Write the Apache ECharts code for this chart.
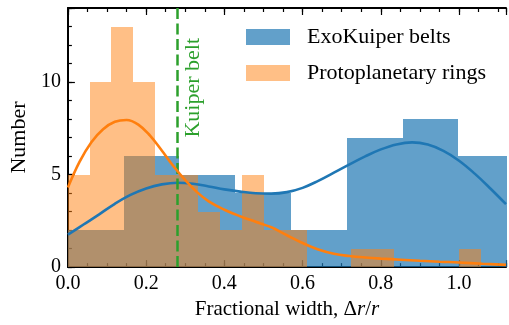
<!DOCTYPE html>
<html>
<head>
<meta charset="utf-8">
<script src="https://cdn.jsdelivr.net/npm/echarts@6/dist/echarts.min.js"></script>
<style>
  html, body { margin: 0; padding: 0; background: #fff; }
  #chart { width: 509px; height: 325px; }
</style>
</head>
<body>
<div id="chart"></div>
<script>
// histogram counts
const blueBinWidth = 0.0713;
const blueCounts = [2, 2, 6, 6, 5, 5, 4, 4, 2, 2, 7, 7, 8, 8, 6, 6];
const orangeBinWidth = 0.0556;
const orangeCounts = [5, 10, 13, 10, 5, 5, 3, 2, 5, 2, 2, 0, 0, 1, 1, 0, 0, 0, 1, 0];

// smoothed curves (x, number)
const blueKde = [
  [0, 1.75], [0.04, 2.3], [0.08, 2.85], [0.12, 3.42], [0.16, 3.9], [0.2, 4.25],
  [0.24, 4.47], [0.28, 4.56], [0.32, 4.5], [0.36, 4.36], [0.4, 4.2], [0.44, 4.08],
  [0.48, 3.99], [0.52, 3.97], [0.56, 4.05], [0.6, 4.28], [0.64, 4.66], [0.68, 5.1],
  [0.72, 5.55], [0.76, 5.98], [0.8, 6.36], [0.84, 6.63], [0.88, 6.74], [0.92, 6.62],
  [0.96, 6.28], [1.0, 5.75], [1.04, 5.05], [1.08, 4.25], [1.12, 3.4]
];
const orangeKde = [
  [0, 4.3], [0.03, 5.7], [0.06, 6.75], [0.09, 7.45], [0.12, 7.85], [0.15, 7.95],
  [0.18, 7.7], [0.21, 7.1], [0.24, 6.3], [0.27, 5.45], [0.3, 4.7], [0.33, 4.05],
  [0.36, 3.55], [0.4, 3.1], [0.44, 2.75], [0.48, 2.45], [0.52, 2.15], [0.56, 1.72],
  [0.6, 1.3], [0.64, 0.95], [0.68, 0.72], [0.72, 0.6], [0.76, 0.52], [0.8, 0.46],
  [0.85, 0.4], [0.9, 0.34], [0.95, 0.29], [1.0, 0.25], [1.06, 0.18], [1.12, 0.12]
];

const kuiperBeltWidth = 0.278;
const seriesNames = ['ExoKuiper belts', 'Protoplanetary rings'];
const xMax = 1.12;
const yMax = 14;

const FONT = 'Liberation Serif';
const blueFill = 'rgba(31,119,180,0.7)';
const orangeFill = 'rgba(255,127,14,0.5)';

function toBins(counts, width) {
  return counts.map((c, i) => [i * width, (i + 1) * width, c]);
}

function rectItem(fill) {
  return function (params, api) {
    const p0 = api.coord([api.value(0), 0]);
    const p1 = api.coord([api.value(1), api.value(2)]);
    const x0 = Math.round(p0[0]);
    const x1 = Math.round(p1[0]);
    const yTop = Math.round(p1[1]);
    return {
      type: 'rect',
      shape: { x: x0, y: yTop, width: x1 - x0, height: p0[1] - yTop },
      style: { fill: fill }
    };
  };
}

const chart = echarts.init(document.getElementById('chart'));

function xAxisDef(pos, interval, len, main) {
  return {
    type: 'value', position: pos, min: 0, max: xMax, interval: interval,
    axisLine: { show: main, onZero: false, lineStyle: { color: '#000', width: 2 } },
    axisTick: { show: true, inside: true, length: len, lineStyle: { color: '#000', width: 1.2 } },
    axisLabel: {
      show: main && pos === 'bottom', margin: 7, color: '#000',
      fontFamily: FONT, fontSize: 20,
      formatter: v => Math.abs(v * 5 - Math.round(v * 5)) < 1e-6 ? v.toFixed(1) : ''
    },
    splitLine: { show: false }
  };
}

function yAxisDef(interval, len, main) {
  return {
    type: 'value', position: 'left', min: 0, max: yMax, interval: interval,
    axisLine: { show: main, onZero: false, lineStyle: { color: '#000', width: 2 } },
    axisTick: { show: true, inside: true, length: len, lineStyle: { color: '#000', width: 1.2 } },
    axisLabel: {
      show: main, margin: 7, color: '#000', fontFamily: FONT, fontSize: 20,
      formatter: v => v % 5 === 0 ? String(v) : ''
    },
    splitLine: { show: false }
  };
}

const xMain = xAxisDef('bottom', 0.2, 7, true);
xMain.name = '{a|Fractional width, Δ}{i|r}{a|/}{i|r}';
xMain.nameLocation = 'middle';
xMain.nameGap = 31;
xMain.nameTextStyle = {
  rich: {
    a: { fontFamily: FONT, fontSize: 21, color: '#000' },
    i: { fontFamily: FONT, fontSize: 21, fontStyle: 'italic', color: '#000' }
  }
};

const yMain = yAxisDef(5, 7, true);
yMain.name = 'Number';
yMain.nameLocation = 'middle';
yMain.nameGap = 33;
yMain.nameTextStyle = { fontFamily: FONT, fontSize: 22, color: '#000' };

const option = {
  animation: false,
  backgroundColor: '#fff',
  grid: { left: 66, top: 8, width: 443.2, height: 261 },
  legend: {
    data: seriesNames,
    orient: 'vertical',
    left: 246, top: 26,
    padding: 0,
    icon: 'rect',
    itemWidth: 44, itemHeight: 16, itemGap: 14,
    textStyle: { fontFamily: FONT, fontSize: 22, color: '#000', padding: [0, 0, 0, 12] }
  },
  xAxis: [
    xMain,
    xAxisDef('bottom', 0.05, 4, false),
    xAxisDef('top', 0.2, 7, true),
    xAxisDef('top', 0.05, 4, false)
  ],
  yAxis: [
    yMain,
    yAxisDef(1, 4, false)
  ],
  series: [
    {
      name: seriesNames[0], type: 'custom', clip: true,
      itemStyle: { color: blueFill },
      encode: { x: [0, 1], y: 2 },
      renderItem: rectItem(blueFill),
      data: toBins(blueCounts, blueBinWidth), z: 1
    },
    {
      name: seriesNames[1], type: 'custom', clip: true,
      itemStyle: { color: orangeFill },
      encode: { x: [0, 1], y: 2 },
      renderItem: rectItem(orangeFill),
      data: toBins(orangeCounts, orangeBinWidth), z: 2
    },
    {
      name: 'kuiper', type: 'line', data: [], z: 3,
      markLine: {
        silent: true, symbol: 'none',
        lineStyle: { color: '#2ca02c', width: 2.5, type: [11, 4.5] },
        label: {
          show: true, position: 'insideEndBottom', formatter: 'Kuiper belt',
          fontFamily: FONT, fontSize: 22, color: '#2ca02c', distance: [30, 5]
        },
        data: [{ xAxis: kuiperBeltWidth }]
      }
    },
    {
      name: 'blue kde', type: 'line', data: blueKde, smooth: 0.4, showSymbol: false,
      lineStyle: { color: '#1f77b4', width: 2.6 }, z: 4
    },
    {
      name: 'orange kde', type: 'line', data: orangeKde, smooth: 0.4, showSymbol: false,
      lineStyle: { color: '#ff7f0e', width: 2.6 }, z: 5
    }
  ]
};

chart.setOption(option);
</script>
</body>
</html>
